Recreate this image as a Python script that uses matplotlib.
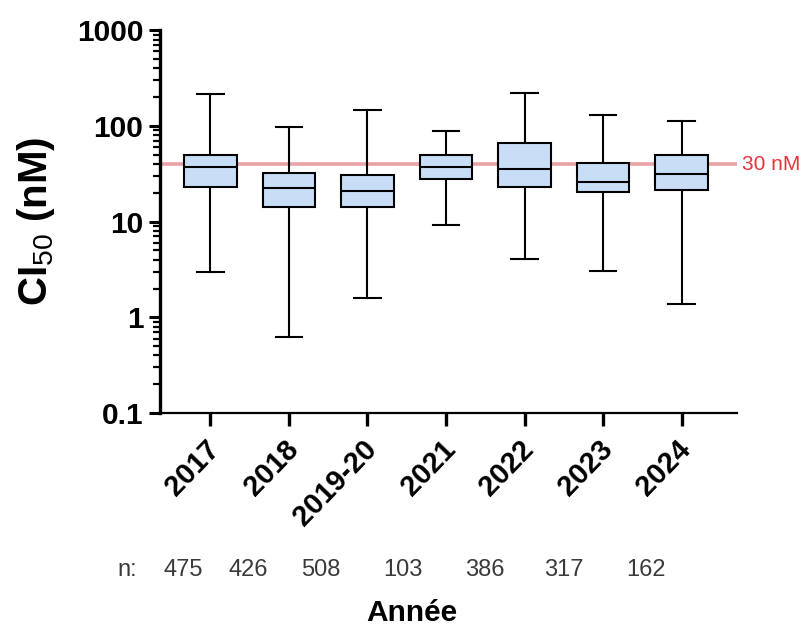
import matplotlib.pyplot as plt
from matplotlib.transforms import ScaledTranslation

plt.rcParams['font.family'] = ['Liberation Sans', 'DejaVu Sans']
plt.rcParams['mathtext.fontset'] = 'custom'
plt.rcParams['mathtext.rm'] = 'Liberation Sans'
plt.rcParams['mathtext.bf'] = 'Liberation Sans:bold'

# data (nM)
years = ["2017", "2018", "2019-20", "2021", "2022", "2023", "2024"]
whis_lo = [2.95, 0.63, 1.58, 9.3, 4.1, 3.07, 1.37]
q1 = [23.1, 14.3, 14.3, 28.0, 23.1, 20.2, 21.2]
med = [37.4, 22.2, 21.0, 37.4, 35.7, 25.7, 31.1]
q3 = [49.9, 32.6, 30.9, 49.9, 66.6, 41.2, 49.9]
whis_hi = [214, 98.6, 145, 89.5, 223, 131.5, 113]
n_counts = ["475", "426", "508", "103", "386", "317", "162"]
threshold = 40
threshold_label = "30 nM"

stats = []
for i in range(len(years)):
    stats.append({"label": years[i], "whislo": whis_lo[i], "q1": q1[i],
                  "med": med[i], "q3": q3[i], "whishi": whis_hi[i]})

fig = plt.figure(figsize=(8.04, 6.3), dpi=100)
ax = fig.add_axes([0.199, 0.3444, 0.718, 0.6076])

ax.axhline(threshold, color='#e9a2a5', lw=2.6, zorder=1)

bp = ax.bxp(stats, positions=range(len(years)), widths=0.67, capwidths=0.34,
            patch_artist=True, showfliers=False,
            boxprops=dict(facecolor='#c8ddf6', edgecolor='black', lw=1.5),
            medianprops=dict(color='black', lw=1.5),
            whiskerprops=dict(color='black', lw=1.5),
            capprops=dict(color='black', lw=1.5))
for b in bp['boxes']:
    b.set_zorder(3)
for m in bp['medians']:
    m.set_zorder(4)

ax.set_yscale('log')
ax.set_ylim(0.1, 1000)
ax.set_xlim(-0.643, 6.71)
ax.set_yticks([0.1, 1, 10, 100, 1000])
ax.set_yticklabels(["0.1", "1", "10", "100", "1000"], fontsize=21.5, fontweight='bold')
ax.set_xticks(range(len(years)))
ax.set_xticklabels([])

# rotated year labels, drawn by hand so their top corner sits just under the tick
off = ScaledTranslation(-0.05, -0.22, fig.dpi_scale_trans)
for i in range(len(years)):
    ax.text(i, 0, years[i], transform=ax.get_xaxis_transform() + off,
            fontsize=21, fontweight='bold', rotation=46, ha='right', va='top',
            rotation_mode='anchor')

ax.spines['top'].set_visible(False)
ax.spines['right'].set_visible(False)
ax.spines['left'].set_linewidth(2.4)
ax.spines['bottom'].set_linewidth(1.6)
ax.tick_params(axis='y', which='major', length=8, width=2.2, pad=4)
ax.tick_params(axis='y', which='minor', length=5, width=1.6)
ax.tick_params(axis='x', length=9, width=2.4, pad=2)

ax.set_ylabel("CI$_{50}$ (nM)", fontsize=29, fontweight='bold', labelpad=14)

ax.text(1.008, threshold, threshold_label, transform=ax.get_yaxis_transform(),
        color='#e8323c', fontsize=15, va='center', ha='left')

# sample size row
n_x = [183, 248, 321, 403, 485, 564, 646]
fig.text(127 / 804, 1 - 570 / 630, "n:", fontsize=17, color='#3a3a3a', ha='center', va='center')
for i in range(len(n_counts)):
    fig.text(n_x[i] / 804, 1 - 570 / 630, n_counts[i], fontsize=17, color='#3a3a3a',
             ha='center', va='center')

fig.text(412 / 804, 1 - 613 / 630, "Année", fontsize=21.5, fontweight='bold',
         ha='center', va='center')

fig.savefig("out.png", dpi=100)
